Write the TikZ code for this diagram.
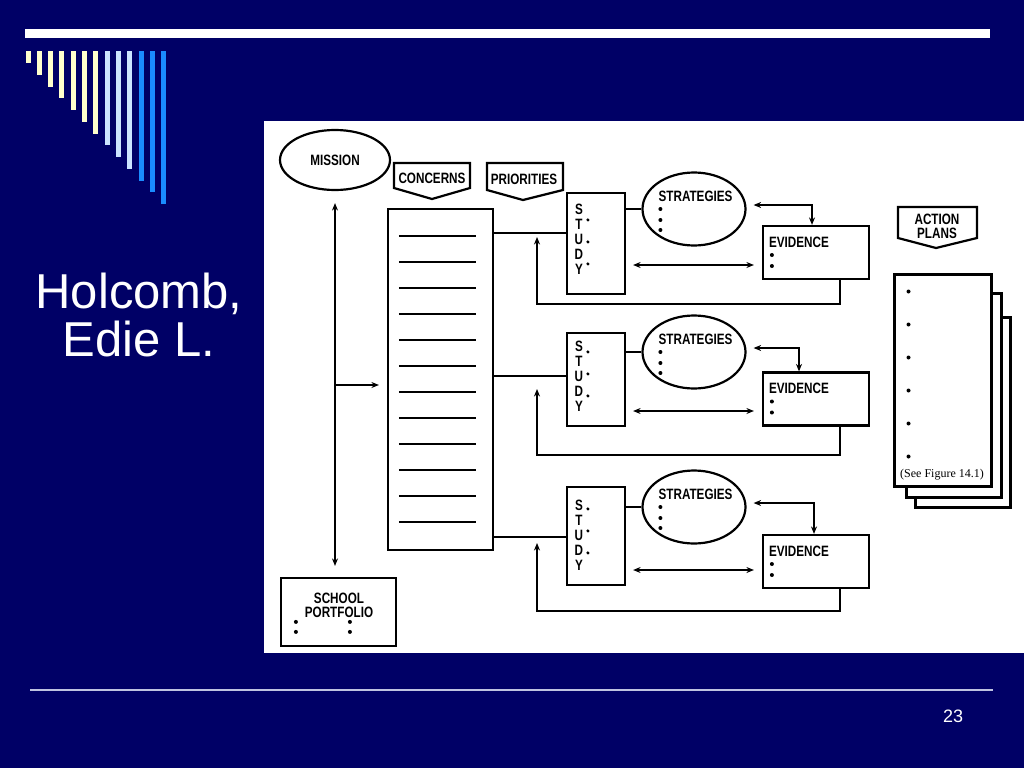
\documentclass[tikz,border=0pt]{standalone}
\usepackage{fontspec}
\setmainfont{Liberation Sans}
\newfontfamily\boxfont[FakeStretch=0.78]{Liberation Sans}
\newfontfamily\notefont{Liberation Serif}
\usetikzlibrary{arrows.meta,calc,positioning,shapes.geometric}

\definecolor{slideblue}{RGB}{0,0,102}
\definecolor{barcream}{RGB}{255,255,204}
\definecolor{barpale}{RGB}{204,228,255}
\definecolor{barblue}{RGB}{26,140,255}
\definecolor{rulegrey}{RGB}{190,195,225}

\tikzset{
	every box/.style={draw, line width=2.2pt, fill=white, inner sep=0pt},
	every label text/.style={font=\boxfont\bfseries\fontsize{15}{15}\selectfont, inner sep=0pt},
	link/.style={line width=1.3pt},
}

\begin{document}
\begin{tikzpicture}[x=1pt, y=-1pt, >={Stealth[length=7.5pt,width=6pt]}]
		
		\useasboundingbox (0,0) rectangle (1024,768);
		\fill[slideblue] (0,0) rectangle (1024,768);
		
		% slide decoration
		\fill[white] (25,29) rectangle (990,38);
		\foreach \c [count=\i from 0] in {barcream,barcream,barcream,barcream,barcream,barcream,barcream,barpale,barpale,barpale,barblue,barblue,barblue}
		\fill[\c] (25.5+11.3*\i,51) rectangle ++(5,12+11.75*\i);
		
		\node[text=white, font=\fontsize{49}{49}\selectfont, anchor=base, inner sep=0] (title-1) at (139,308) {Holcomb,};
		\node[text=white, font=\fontsize{49}{49}\selectfont, anchor=base, inner sep=0] (title-2) at (139,356) {Edie L.};
		
		\draw[rulegrey, line width=2pt] (30,690) -- (993,690);
		\node[text=white, font=\fontsize{18}{18}\selectfont, anchor=base, inner sep=0] (page) at (953,722) {23};
		
		% figure panel
		\fill[white] (264,121) rectangle (1024,653);
		
		\node[every box/.try, every label text/.try, ellipse, minimum width=110, minimum height=60] (mission) at (335,160) {MISSION};
		
		\draw[line width=2.2pt] (394,163) -- (470,163) -- (470,188) -- (432,199) -- (394,188) -- cycle;
		\node[every label text/.try, anchor=base] (concerns) at (432,183) {CONCERNS};
		
		\draw[line width=2.2pt] (487,163) -- (563,163) -- (563,190) -- (523,200) -- (487,190) -- cycle;
		\node[every label text/.try, anchor=base] (priorities) at (524,184) {PRIORITIES};
		
		\node[every box/.try, minimum width=105, minimum height=341] (list) at (440.5,379.5) {};
		\foreach \k in {0,...,11}
		\draw[link] ($(list.north west)+(12,28+26*\k)$) -- ++(77,0);
		
		\node[every box/.try, minimum width=115, minimum height=68] (portfolio) at (338.5,612) {};
		\node[every label text/.try, anchor=base] (portfolio-1) at (339,603) {SCHOOL};
		\node[every label text/.try, anchor=base] (portfolio-2) at (339,617) {PORTFOLIO};
		\foreach \dx in {16,70}
		\foreach \dy in {11,21}
		\fill ($(portfolio.west |- portfolio.north)+(\dx,34+\dy)$) circle (2pt);
		
		\draw[link, <->, shorten <=12pt, shorten >=11pt] (mission.south) -- (mission.south |- portfolio.north);
		\draw[link, ->, shorten >=8pt] (mission.south |- 0,385) -- (list.west |- 0,385);
		
		% study / strategies / evidence rows
		\foreach \r/\sc/\sh/\ec/\ev/\lk/\sd/\fb/\ar/\cx/\ty/\dy in {
			1/243.5/101/209/252.5/233/265/304/237/812/23/28,
			2/379.5/93/352/399/376/411/455/389/799/20/20,
			3/536/98/507/561.5/537/570/611/543/814/25/23}
		{
			\node[every box/.try, minimum width=58, minimum height=\sh] (study-\r) at (596,\sc) {};
			\node[every box/.try, ellipse, minimum width=103, minimum height=73] (strat-\r) at (694,\ec) {};
			\node[every box/.try, minimum width=106, minimum height=53] (evid-\r) at (816,\ev) {};
			
			\foreach \l [count=\k from 0] in {S,T,U,D,Y}
			\node[every label text/.try, anchor=base] (study-\r-\l) at ($(study-\r.north west)+(13,\ty+15*\k)$) {\l};
			\foreach \d in {0,22,44}
			\fill ($(study-\r.north west)+(22,\dy+\d)$) circle (1.7pt);
			
			\node[every label text/.try, anchor=base west] (strat-\r-t) at ($(strat-\r.west)+(17,-8)$) {STRATEGIES};
			\foreach \d in {0,11,21}
			\fill ($(strat-\r.west)+(19,\d)$) circle (2pt);
			
			\node[every label text/.try, anchor=base west] (evid-\r-t) at ($(evid-\r.west)+(7,-5.5)$) {EVIDENCE};
			\foreach \d in {2.5,13.5}
			\fill ($(evid-\r.west)+(10,\d)$) circle (2pt);
			
			\coordinate (lk-\r) at (0,\lk);
			\coordinate (sd-\r) at (0,\sd);
			\coordinate (fb-\r) at (537,\fb);
			\coordinate (ar-\r) at (537,\ar);
			\coordinate (cx-\r) at (\cx,0);
			
			\draw[link] (list.east |- lk-\r) -- (study-\r.west |- lk-\r);
			\draw[link] (study-\r.east |- strat-\r.west) -- (strat-\r.west);
			\draw[link, <->] ([shift={(7,-4)}]strat-\r.east) -| (cx-\r |- evid-\r.north);
			\draw[link, <->, shorten <=7pt, shorten >=8pt] (study-\r.east |- sd-\r) -- (evid-\r.west |- sd-\r);
			\draw[link, ->] ([xshift=24pt]evid-\r.south) |- (fb-\r) -- (ar-\r);
		}
		
		% action plans
		\draw[line width=2.2pt] (898,207) -- (977,207) -- (977,238) -- (936,248) -- (898,238) -- cycle;
		\node[every label text/.try, anchor=base] (action-1) at (937,224) {ACTION};
		\node[every label text/.try, anchor=base] (action-2) at (937,238) {PLANS};
		
		\node[every box/.try, line width=3pt, minimum width=95, minimum height=190] (plan-3) at (962.5,412) {};
		\node[every box/.try, line width=3pt, minimum width=95, minimum height=204] (plan-2) at (953.5,395) {};
		\node[every box/.try, line width=3pt, minimum width=97, minimum height=212] (plan-1) at (942.5,380) {};
		\foreach \k in {0,...,5}
		\fill ($(plan-1.north west)+(16,19+33*\k)$) circle (2pt);
		\node[font=\notefont\fontsize{12}{12}\selectfont, anchor=base, inner sep=0] (note) at (942,477) {(See Figure 14.1)};
		
\end{tikzpicture}
\end{document}
